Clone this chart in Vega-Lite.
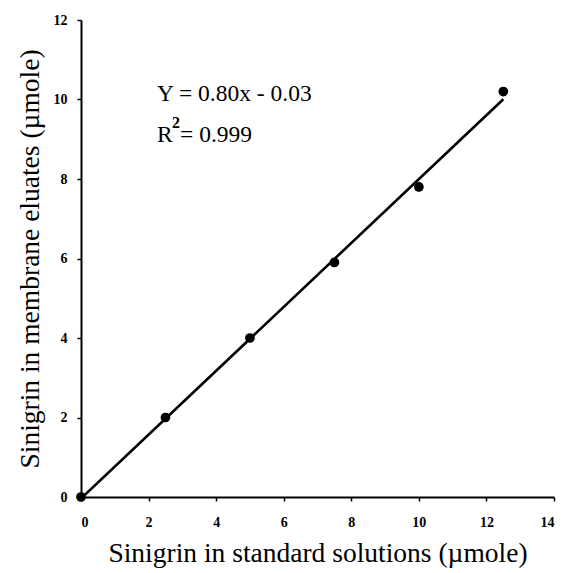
{
  "$schema": "https://vega.github.io/schema/vega-lite/v6.json",
  "width": 473,
  "height": 477,
  "autosize": {"type": "none"},
  "padding": {"left": 81, "top": 20, "right": 15, "bottom": 76},
  "background": "white",
  "config": {
    "view": {"stroke": null},
    "font": "Liberation Serif",
    "axis": {
      "grid": false,
      "domainColor": "black",
      "domainWidth": 2,
      "tickColor": "black",
      "tickWidth": 1.5,
      "tickSize": 4,
      "labelFont": "Liberation Serif",
      "labelFontWeight": "bold",
      "labelFontSize": 14,
      "labelColor": "black",
      "titleFont": "Liberation Serif",
      "titleFontWeight": "normal",
      "titleFontSize": 27.5,
      "titleColor": "black"
    }
  },
  "layer": [
    {
      "data": {"values": [
        {"std": 0, "eluate": 0},
        {"std": 2.5, "eluate": 2.0},
        {"std": 5, "eluate": 4.0},
        {"std": 7.5, "eluate": 5.9},
        {"std": 10, "eluate": 7.8},
        {"std": 12.5, "eluate": 10.2}
      ]},
      "transform": [{"regression": "eluate", "on": "std", "extent": [0, 12.5]}],
      "mark": {"type": "line", "color": "black", "strokeWidth": 2.6, "clip": true},
      "encoding": {
        "x": {"field": "std", "type": "quantitative"},
        "y": {"field": "eluate", "type": "quantitative"}
      }
    },
    {
      "data": {"values": [
        {"std": 0, "eluate": 0},
        {"std": 2.5, "eluate": 2.0},
        {"std": 5, "eluate": 4.0},
        {"std": 7.5, "eluate": 5.9},
        {"std": 10, "eluate": 7.8},
        {"std": 12.5, "eluate": 10.2}
      ]},
      "mark": {"type": "point", "filled": true, "color": "black", "size": 95, "opacity": 1},
      "encoding": {
        "x": {
          "field": "std", "type": "quantitative",
          "scale": {"domain": [0, 14], "nice": false, "zero": true},
          "axis": {"values": [0, 2, 4, 6, 8, 10, 12, 14], "title": "Sinigrin in standard solutions (µmole)", "labelPadding": 14, "titlePadding": 10}
        },
        "y": {
          "field": "eluate", "type": "quantitative",
          "scale": {"domain": [0, 12], "nice": false},
          "axis": {"values": [0, 2, 4, 6, 8, 10, 12], "title": "Sinigrin in membrane eluates (µmole)", "labelPadding": 10, "titlePadding": 9}
        }
      }
    },
    {
      "data": {"values": [{"label": "Y = 0.80x - 0.03", "x": 2.25, "y": 10.15}]},
      "mark": {"type": "text", "align": "left", "baseline": "middle", "fontSize": 23.5, "font": "Liberation Serif", "color": "black"},
      "encoding": {
        "x": {"field": "x", "type": "quantitative"},
        "y": {"field": "y", "type": "quantitative"},
        "text": {"field": "label"}
      }
    },
    {
      "data": {"values": [{"label": "R", "x": 2.25, "y": 9.1}]},
      "mark": {"type": "text", "align": "left", "baseline": "middle", "fontSize": 23.5, "font": "Liberation Serif", "color": "black"},
      "encoding": {
        "x": {"field": "x", "type": "quantitative"},
        "y": {"field": "y", "type": "quantitative"},
        "text": {"field": "label"}
      }
    },
    {
      "data": {"values": [{"label": "2", "x": 2.25, "y": 9.1}]},
      "mark": {"type": "text", "align": "left", "baseline": "middle", "fontSize": 16, "fontWeight": "bold", "font": "Liberation Serif", "color": "black", "dx": 15, "dy": -12},
      "encoding": {
        "x": {"field": "x", "type": "quantitative"},
        "y": {"field": "y", "type": "quantitative"},
        "text": {"field": "label"}
      }
    },
    {
      "data": {"values": [{"label": "= 0.999", "x": 2.25, "y": 9.1}]},
      "mark": {"type": "text", "align": "left", "baseline": "middle", "fontSize": 23.5, "font": "Liberation Serif", "color": "black", "dx": 23},
      "encoding": {
        "x": {"field": "x", "type": "quantitative"},
        "y": {"field": "y", "type": "quantitative"},
        "text": {"field": "label"}
      }
    }
  ]
}
